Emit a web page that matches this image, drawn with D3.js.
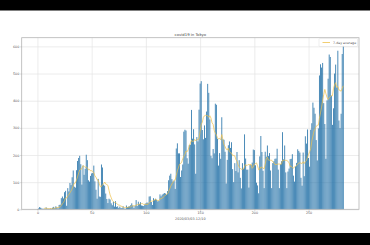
<!DOCTYPE html>
<html>
<head>
<meta charset="utf-8">
<script src="https://cdn.jsdelivr.net/npm/d3@7"></script>
<style>
  body { margin: 0; background: #000; }
  svg { display: block; }
  text { font-family: 'DejaVu Sans', sans-serif; }
</style>
</head>
<body>
<script>
// daily new cases, Tokyo, one value per day (day 0 .. 282)
var marCases = [1, 3, 8, 6, 3, 2, 2, 1, 7, 2, 2, 2, 3, 2, 6, 9, 4, 11, 7, 3, 16, 17, 41, 47, 40, 63, 68, 13, 78];
var aprCases = [66, 97, 89, 118, 143, 83, 80, 144, 178, 189, 197, 166, 91, 161, 127, 149, 201, 181, 107, 102, 123, 132, 134, 161, 103, 72, 39, 112, 47, 46];
var mayCases = [165, 154, 91, 87, 58, 38, 23, 39, 36, 22, 15, 28, 10, 30, 9, 11, 5, 10, 5, 5, 11, 3, 2, 14, 8, 10, 11, 15, 22, 14, 5];
var junCases = [13, 34, 12, 28, 20, 26, 14, 13, 12, 18, 22, 25, 24, 47, 48, 27, 16, 41, 35, 39, 35, 29, 31, 55, 48, 54, 57, 60, 58, 54];
var julCases = [67, 107, 124, 131, 111, 102, 106, 75, 224, 243, 206, 206, 119, 143, 165, 286, 293, 290, 188, 168, 237, 238, 366, 260, 295, 239, 131, 266, 250, 367, 463];
var augCases = [472, 292, 258, 309, 263, 360, 462, 429, 331, 197, 188, 222, 206, 389, 385, 260, 161, 207, 186, 339, 258, 256, 212, 95, 182, 236, 250, 226, 247, 148, 100];
var sepCases = [170, 141, 211, 136, 181, 116, 77, 170, 149, 276, 187, 146, 146, 80, 163, 163, 172, 220, 218, 162, 98, 88, 59, 195, 270, 211, 142, 78, 212, 194];
var octCases = [235, 196, 207, 143, 78, 170, 177, 186, 187, 223, 146, 78, 166, 177, 284, 184, 235, 136, 78, 139, 150, 185, 186, 203, 124, 102, 158, 171, 221, 215, 209];
var novCases = [116, 87, 209, 122, 269, 242, 294, 189, 157, 293, 317, 393, 374, 352, 255, 180, 298, 493, 534, 522, 539, 391, 314, 186, 401, 481, 570, 561, 418, 311];
var decCases = [372, 500, 533, 449, 584, 327, 299, 352, 572, 602];

var xTicks = [0, 50, 100, 150, 200, 250];
var yTicks = [0, 100, 200, 300, 400, 500, 600];

var titleText = 'covid19 in Tokyo';
var xLabelText = '2020/03/03-12/10';
var legendText = '7-day average';

var cases = [].concat(marCases, aprCases, mayCases, junCases, julCases, augCases, sepCases, octCases, novCases, decCases);

// trailing 7 day mean
var avg = [];
for (var i = 6; i < cases.length; i++) {
    avg.push([i, d3.mean(cases.slice(i - 6, i + 1))]);
}

var svgWidth = 370, svgHeight = 245;
var plotLeft = 21.7, plotRight = 359, plotTop = 37.7, plotBottom = 209.3;

var xScale = d3.scaleLinear()
    .domain([-14.5, 296.5])
    .range([plotLeft, plotRight]);

var yScale = d3.scaleLinear()
    .domain([0, 632])
    .range([plotBottom, plotTop]);

var svg = d3
    .select('body')
    .append('svg')
    .attr('width', svgWidth)
    .attr('height', svgHeight);

// white figure strip between black bands
svg.append('rect')
    .attr('x', 0)
    .attr('y', 10.5)
    .attr('width', svgWidth)
    .attr('height', 222.5)
    .attr('fill', '#fff');

// grid
svg.append('g')
    .attr('transform', `translate(0, ${ plotBottom })`)
    .call(d3.axisBottom(xScale).tickValues(xTicks).tickSize(-(plotBottom - plotTop)).tickFormat(''))
    .call(g => g.select('.domain').remove())
    .selectAll('line')
    .attr('stroke', '#e4e4e4')
    .attr('stroke-width', 0.7);

svg.append('g')
    .attr('transform', `translate(${ plotLeft }, 0)`)
    .call(d3.axisLeft(yScale).tickValues(yTicks).tickSize(-(plotRight - plotLeft)).tickFormat(''))
    .call(g => g.select('.domain').remove())
    .selectAll('line')
    .attr('stroke', '#e4e4e4')
    .attr('stroke-width', 0.7);

// bars
svg.append('g')
    .selectAll('rect')
    .data(cases)
    .enter()
    .append('rect')
    .attr('x', (d, i) => xScale(i - 0.4))
    .attr('y', d => yScale(d))
    .attr('width', xScale(0.8) - xScale(0))
    .attr('height', d => yScale(0) - yScale(d))
    .attr('fill', '#1f6fa6')
    .attr('fill-opacity', 0.92);

// 7-day average line
var line = d3.line()
    .x(d => xScale(d[0]))
    .y(d => yScale(d[1]));

svg.append('path')
    .datum(avg)
    .attr('d', line)
    .attr('fill', 'none')
    .attr('stroke', '#eec24e')
    .attr('stroke-opacity', 0.9)
    .attr('stroke-width', 0.8);

// axes
var xAxis = d3.axisBottom(xScale).tickValues(xTicks).tickSize(1.2).tickPadding(1.2);
var yAxis = d3.axisLeft(yScale).tickValues(yTicks).tickSize(1.2).tickPadding(1.2);

var gx = svg.append('g')
    .attr('transform', `translate(0, ${ plotBottom })`)
    .call(xAxis);

var gy = svg.append('g')
    .attr('transform', `translate(${ plotLeft }, 0)`)
    .call(yAxis);

[gx, gy].forEach(g => {
    g.select('.domain').remove();
    g.selectAll('line').attr('stroke', '#999').attr('stroke-width', 0.6);
    g.selectAll('text')
        .attr('font-size', 3.3)
        .attr('fill', '#555');
});

// frame
svg.append('rect')
    .attr('x', plotLeft)
    .attr('y', plotTop)
    .attr('width', plotRight - plotLeft)
    .attr('height', plotBottom - plotTop)
    .attr('fill', 'none')
    .attr('stroke', '#b4b4b4')
    .attr('stroke-width', 0.8);

// title and label
svg.append('text')
    .attr('x', (plotLeft + plotRight) / 2)
    .attr('y', 35.5)
    .attr('text-anchor', 'middle')
    .attr('font-size', 3.8)
    .attr('fill', '#444')
    .text(titleText);

svg.append('text')
    .attr('x', (plotLeft + plotRight) / 2)
    .attr('y', 220)
    .attr('text-anchor', 'middle')
    .attr('font-size', 3.4)
    .attr('fill', '#555')
    .text(xLabelText);

// legend
var legend = svg.append('g');

legend.append('rect')
    .attr('x', 319)
    .attr('y', 38.5)
    .attr('width', 38.5)
    .attr('height', 8)
    .attr('rx', 0.8)
    .attr('fill', '#fff')
    .attr('fill-opacity', 0.8)
    .attr('stroke', '#ddd')
    .attr('stroke-width', 0.5);

legend.append('line')
    .attr('x1', 322.5)
    .attr('x2', 330)
    .attr('y1', 42.5)
    .attr('y2', 42.5)
    .attr('stroke', '#eec24e')
    .attr('stroke-width', 0.8);

legend.append('text')
    .attr('x', 333)
    .attr('y', 43.6)
    .attr('font-size', 3.2)
    .attr('fill', '#555')
    .text(legendText);
</script>
</body>
</html>
